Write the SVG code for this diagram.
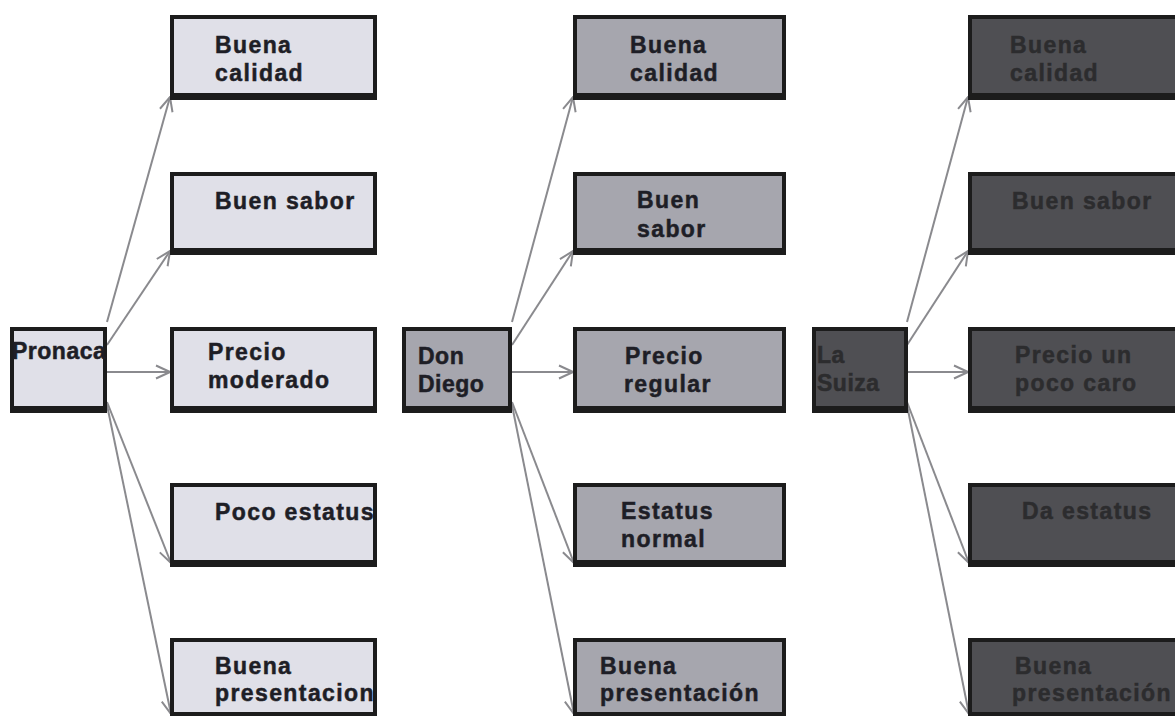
<svg xmlns="http://www.w3.org/2000/svg" width="1175" height="716" viewBox="0 0 1175 716">
  <defs>
    <marker id="open-arrow" viewBox="0 0 16 16" refX="15" refY="8" markerWidth="16" markerHeight="16" markerUnits="userSpaceOnUse" orient="auto">
      <path d="M1,1.5 L15,8 L1,14.5" fill="none" stroke="#8a8a8e" stroke-width="2"/>
    </marker>
    <!-- solid dark band under each box, giving the heavier bottom edge -->
    <filter id="base-edge" x="-5%" y="-5%" width="110%" height="120%">
      <feOffset in="SourceAlpha" dx="0" dy="2.5" result="off"/>
      <feFlood flood-color="#1c1c1e"/>
      <feComposite operator="in" in2="off" result="band"/>
      <feMerge>
        <feMergeNode in="band"/>
        <feMergeNode in="SourceGraphic"/>
      </feMerge>
    </filter>
    <style>
      .box { stroke: #1c1c1e; stroke-width: 4; filter: url(#base-edge); }
      .light { fill: #e0e0e8; }
      .mid { fill: #a6a6ae; }
      .dark { fill: #4f4f53; }
      .lbl { font-family: "Liberation Sans", Arial, sans-serif; font-weight: bold; font-size: 23px; letter-spacing: 1.4px; fill: #1e1e26; stroke: #1e1e26; stroke-width: 0.5px; }
      .src { letter-spacing: 0.5px; }
      .dim { fill: #2c2c2e; stroke: #2c2c2e; }
      .conn line { stroke: #8a8a8e; stroke-width: 2; marker-end: url(#open-arrow); }
    </style>
  </defs>
  <rect width="1175" height="716" fill="#ffffff"/>

  <!-- connectors -->
  <g id="connectors" class="conn">
    <line x1="107" y1="322" x2="170" y2="97"/>
    <line x1="107" y1="345" x2="170" y2="251"/>
    <line x1="107" y1="372" x2="170" y2="372"/>
    <line x1="107" y1="402" x2="171" y2="563"/>
    <line x1="107" y1="405" x2="171" y2="714"/>

    <line x1="512" y1="322" x2="573" y2="97"/>
    <line x1="512" y1="345" x2="573" y2="251"/>
    <line x1="512" y1="372" x2="573" y2="372"/>
    <line x1="512" y1="402" x2="574" y2="563"/>
    <line x1="512" y1="405" x2="574" y2="714"/>

    <line x1="907" y1="322" x2="968" y2="97"/>
    <line x1="907" y1="345" x2="968" y2="251"/>
    <line x1="907" y1="372" x2="968" y2="372"/>
    <line x1="907" y1="402" x2="969" y2="563"/>
    <line x1="907" y1="405" x2="969" y2="714"/>
  </g>

  <!-- Pronaca -->
  <g id="pronaca">
    <rect class="box light" x="12" y="329" width="93" height="79"/>
    <text class="lbl src" x="12" y="359">Pronaca</text>
  </g>
  <g id="pronaca-calidad">
    <rect class="box light" x="172" y="17" width="203" height="78"/>
    <text class="lbl" x="215" y="53">Buena</text>
    <text class="lbl" x="215" y="81">calidad</text>
  </g>
  <g id="pronaca-sabor">
    <rect class="box light" x="172" y="174" width="203" height="76"/>
    <text class="lbl" x="215" y="209">Buen sabor</text>
  </g>
  <g id="pronaca-precio">
    <rect class="box light" x="172" y="329" width="203" height="79"/>
    <text class="lbl" x="208" y="360">Precio</text>
    <text class="lbl" x="208" y="388">moderado</text>
  </g>
  <g id="pronaca-estatus">
    <rect class="box light" x="172" y="485" width="203" height="77"/>
    <text class="lbl" x="215" y="520">Poco estatus</text>
  </g>
  <g id="pronaca-presentacion">
    <rect class="box light" x="172" y="640" width="203" height="74"/>
    <text class="lbl" x="215" y="674">Buena</text>
    <text class="lbl" x="215" y="701">presentacion</text>
  </g>

  <!-- Don Diego -->
  <g id="don-diego">
    <rect class="box mid" x="404" y="329" width="106" height="79"/>
    <text class="lbl src" x="418" y="364">Don</text>
    <text class="lbl src" x="418" y="392">Diego</text>
  </g>
  <g id="don-diego-calidad">
    <rect class="box mid" x="575" y="17" width="209" height="78"/>
    <text class="lbl" x="630" y="53">Buena</text>
    <text class="lbl" x="630" y="81">calidad</text>
  </g>
  <g id="don-diego-sabor">
    <rect class="box mid" x="575" y="174" width="209" height="76"/>
    <text class="lbl" x="637" y="208">Buen</text>
    <text class="lbl" x="637" y="237">sabor</text>
  </g>
  <g id="don-diego-precio">
    <rect class="box mid" x="575" y="329" width="209" height="79"/>
    <text class="lbl" x="625" y="364">Precio</text>
    <text class="lbl" x="624" y="392">regular</text>
  </g>
  <g id="don-diego-estatus">
    <rect class="box mid" x="575" y="485" width="209" height="77"/>
    <text class="lbl" x="621" y="519">Estatus</text>
    <text class="lbl" x="621" y="547">normal</text>
  </g>
  <g id="don-diego-presentacion">
    <rect class="box mid" x="575" y="640" width="209" height="74"/>
    <text class="lbl" x="600" y="674">Buena</text>
    <text class="lbl" x="600" y="701">presentación</text>
  </g>

  <!-- La Suiza -->
  <g id="la-suiza">
    <rect class="box dark" x="814" y="329" width="92" height="79"/>
    <text class="lbl src dim" x="817" y="363">La</text>
    <text class="lbl src dim" x="817" y="391">Suiza</text>
  </g>
  <g id="la-suiza-calidad">
    <rect class="box dark" x="970" y="17" width="215" height="78"/>
    <text class="lbl dim" x="1010" y="53">Buena</text>
    <text class="lbl dim" x="1010" y="81">calidad</text>
  </g>
  <g id="la-suiza-sabor">
    <rect class="box dark" x="970" y="174" width="215" height="76"/>
    <text class="lbl dim" x="1012" y="209">Buen sabor</text>
  </g>
  <g id="la-suiza-precio">
    <rect class="box dark" x="970" y="329" width="215" height="79"/>
    <text class="lbl dim" x="1015" y="363">Precio un</text>
    <text class="lbl dim" x="1015" y="391">poco caro</text>
  </g>
  <g id="la-suiza-estatus">
    <rect class="box dark" x="970" y="485" width="215" height="77"/>
    <text class="lbl dim" x="1022" y="519">Da estatus</text>
  </g>
  <g id="la-suiza-presentacion">
    <rect class="box dark" x="970" y="640" width="215" height="74"/>
    <text class="lbl dim" x="1015" y="674">Buena</text>
    <text class="lbl dim" x="1012" y="701">presentación</text>
  </g>
</svg>
